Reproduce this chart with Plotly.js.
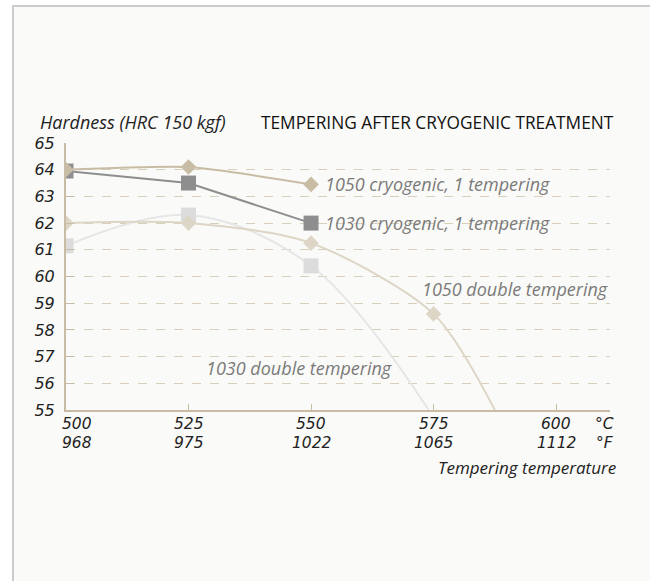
<!DOCTYPE html>
<html><head><meta charset="utf-8">
<script src="https://cdn.plot.ly/plotly-3.0.1.min.js"></script>
<style>
html,body{margin:0;padding:0;background:#fff;width:650px;height:581px;overflow:hidden;}
#frame{position:absolute;left:12px;top:5px;width:640px;height:590px;border:2px solid #cbcbcb;background:#fafaf8;box-sizing:border-box;}
#chart{position:absolute;left:0;top:0;width:650px;height:581px;}
</style></head>
<body>
<div id="frame"></div>
<div id="chart"></div>
<script>
// Temperature ticks (°C) and their °F labels
const tempC = [500, 525, 550, 575, 600];
const tempF = ['968', '975', '1022', '1065', '1112'];
// Hardness ticks
const hardTicks = [55, 56, 57, 58, 59, 60, 61, 62, 63, 64, 65];

// 1050 cryogenic, 1 tempering
const c1050_x = [500, 525, 550];
const c1050_y = [64.0, 64.1, 63.45];
// 1030 cryogenic, 1 tempering
const c1030_x = [500, 525, 550];
const c1030_y = [63.95, 63.5, 62.0];
// 1050 double tempering (measured points + curve end at axis)
const d1050_x = [500, 525, 550, 575, 587.5];
const d1050_y = [62.0, 62.0, 61.25, 58.6, 55.0];
// 1030 double tempering (measured points + curve end at axis)
const d1030_x = [500, 525, 550, 574];
const d1030_y = [61.15, 62.3, 60.4, 55.0];

const seriesLabels = ['1050 cryogenic, 1 tempering', '1030 cryogenic, 1 tempering', '1050 double tempering', '1030 double tempering'];

const FONT = 'Open Sans, sans-serif';
const NUMFONT = 'DejaVu Sans, sans-serif';
const TAN = '#c8bda4', GRAY = '#8e8e8e', LTAN = '#ddd6c6', LGRAY = '#dcdcdc';

const traces = [
  {x: d1030_x, y: d1030_y, mode: 'lines', line: {color: '#e6e6e6', width: 2, shape: 'spline', smoothing: 1.0}},
  {x: d1030_x.slice(0,3), y: d1030_y.slice(0,3), mode: 'markers', marker: {symbol: 'square', size: 15, color: LGRAY}},
  {x: d1050_x, y: d1050_y, mode: 'lines', line: {color: LTAN, width: 2, shape: 'spline', smoothing: 0.8}},
  {x: d1050_x.slice(0,4), y: d1050_y.slice(0,4), mode: 'markers', marker: {symbol: 'diamond', size: 12, color: LTAN}},
  {x: c1030_x, y: c1030_y, mode: 'lines+markers', line: {color: GRAY, width: 2}, marker: {symbol: 'square', size: 15, color: GRAY}},
  {x: c1050_x, y: c1050_y, mode: 'lines+markers', line: {color: TAN, width: 2, shape: 'spline', smoothing: 0.6}, marker: {symbol: 'diamond', size: 12, color: TAN}}
];

const it = s => '<i>' + s + '</i>';
const tickFont = {family: NUMFONT, size: 15.5, color: '#222'};
const annotations = [];
tempC.forEach((c, i) => {
  annotations.push({x: c, y: 55, xref: 'x', yref: 'y', yanchor: 'middle', yshift: -14, xshift: i === 0 ? 11 : 0,
    text: it(String(c)), showarrow: false, font: tickFont});
  annotations.push({x: c, y: 55, xref: 'x', yref: 'y', yanchor: 'middle', yshift: -33, xshift: i === 0 ? 11 : 0,
    text: it(tempF[i]), showarrow: false, font: tickFont});
});
annotations.push({x: 1, y: 55, xref: 'paper', yref: 'y', yanchor: 'middle', xanchor: 'right', yshift: -14, xshift: 6,
  text: it('°C'), showarrow: false, font: tickFont});
annotations.push({x: 1, y: 55, xref: 'paper', yref: 'y', yanchor: 'middle', xanchor: 'right', yshift: -33, xshift: 6,
  text: it('°F'), showarrow: false, font: tickFont});
annotations.push({x: 1, y: 0, xref: 'paper', yref: 'paper', yanchor: 'middle', xanchor: 'right', yshift: -57, xshift: 8,
  text: it('Tempering temperature'), showarrow: false, font: {family: FONT, size: 17, color: '#222'}});
annotations.push({x: 0, y: 1, xref: 'paper', yref: 'paper', yanchor: 'middle', xanchor: 'left', xshift: -28, yshift: 21,
  text: it('Hardness (HRC 150 kgf)'), showarrow: false, font: {family: FONT, size: 18, color: '#222'}});
annotations.push({x: 1, y: 1, xref: 'paper', yref: 'paper', yanchor: 'middle', xanchor: 'right', xshift: 6, yshift: 21,
  text: 'TEMPERING AFTER CRYOGENIC TREATMENT', showarrow: false, font: {family: FONT, size: 17.3, color: '#111'}});
// series labels
const lbl = {family: FONT, size: 18, color: '#7a7a7a'};
annotations.push({x: c1050_x[2], y: c1050_y[2], xanchor: 'left', xshift: 12, text: it(seriesLabels[0]), showarrow: false, font: lbl});
annotations.push({x: c1030_x[2], y: c1030_y[2], xanchor: 'left', xshift: 12, text: it(seriesLabels[1]), showarrow: false, font: lbl});
annotations.push({x: 1, y: 59.52, xref: 'paper', xanchor: 'right', xshift: 0, text: it(seriesLabels[2]), showarrow: false, font: lbl});
annotations.push({x: 547.6, y: 56.57, xanchor: 'center', text: it(seriesLabels[3]), showarrow: false, font: lbl});

const layout = {
  width: 650, height: 581,
  margin: {l: 66, r: 40, t: 143, b: 171},
  paper_bgcolor: 'rgba(0,0,0,0)', plot_bgcolor: 'rgba(0,0,0,0)',
  showlegend: false,
  font: {family: FONT},
  xaxis: {range: [500, 611], tickvals: tempC, showticklabels: false, ticks: 'inside', ticklen: 6, tickcolor: TAN, tickwidth: 1,
    showline: true, linecolor: TAN, linewidth: 2, showgrid: false, zeroline: false, fixedrange: true},
  yaxis: {range: [55, 65], tickvals: hardTicks, ticktext: hardTicks.map(v => it(String(v))), ticks: 'inside', ticklen: 8, tickcolor: TAN, tickwidth: 1,
    showline: true, linecolor: TAN, linewidth: 2, showgrid: true, gridcolor: '#d8cfbb', griddash: 'dash', gridwidth: 1,
    zeroline: false, tickfont: {family: NUMFONT, size: 16, color: '#222'}, ticklabelstandoff: 6, fixedrange: true},
  annotations: annotations
};

Plotly.newPlot('chart', traces, layout, {displayModeBar: false, staticPlot: true});
</script>
</body></html>
